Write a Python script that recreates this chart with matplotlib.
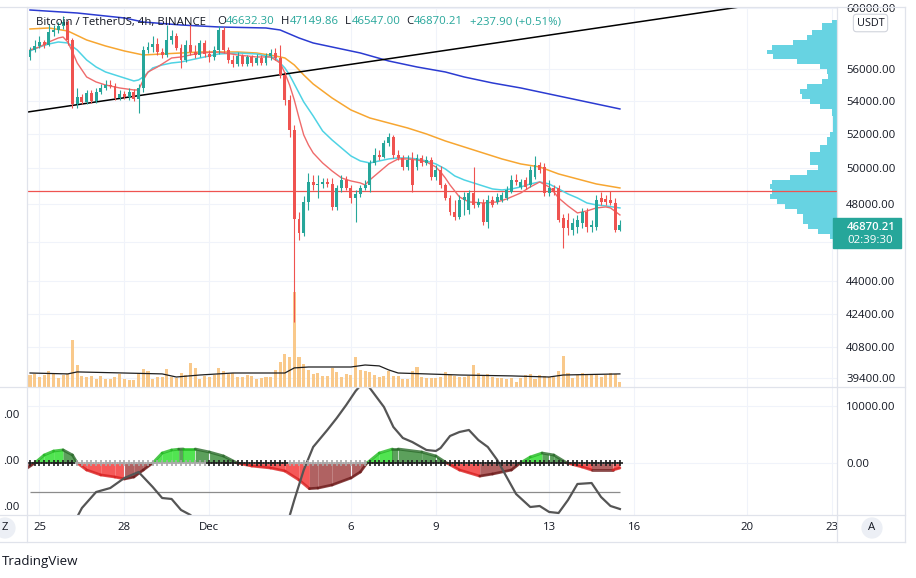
import numpy as np
import pandas as pd
import matplotlib
matplotlib.use("Agg")
import matplotlib.pyplot as plt
from matplotlib.patches import Rectangle
from matplotlib.lines import Line2D
from matplotlib.ticker import NullLocator

plt.rcParams['font.family'] = ['Open Sans', 'DejaVu Sans']

# ---------------- data (BTCUSDT 4h, Binance) ----------------
start = pd.Timestamp('2021-11-24 16:00')
tick_dates = ['2021-11-25', '2021-11-28', '2021-12-01', '2021-12-06', '2021-12-09',
              '2021-12-13', '2021-12-16', '2021-12-20', '2021-12-23']
tick_lbl = ['25', '28', 'Dec', '6', '9', '13', '16', '20', '23']

open_ = np.array([
    56752, 57205, 57466, 57728, 57531, 58388, 58520, 58787, 59053, 57859,
    53801, 54231, 53924, 54478, 53985, 54540, 54788, 54975, 54913, 54169,
    54416, 54231, 54540, 54108, 54788, 57205, 57400, 57596, 57075, 56881,
    57859, 58122, 57335, 56559, 57531, 57075, 56881, 57662, 56946, 56752,
    57205, 58520, 57205, 56559, 56303, 56817, 56303, 56752, 56367, 56688,
    56367, 56817, 57010, 56688, 55603, 54046, 52235, 47212, 46467, 48133,
    49239, 49071, 49127, 49239, 49127, 47860, 48904, 49351, 48904, 48352,
    48572, 48904, 49071, 50313, 50772, 50658, 51469, 51821, 50772, 50600,
    50085, 50485, 50085, 50600, 50313, 50485, 49519, 49915, 49071, 48352,
    47589, 47319, 48242, 47697, 48628, 47969, 48078, 47051, 48242, 48133,
    48242, 48352, 48683, 49351, 48960, 49351, 49071, 49519, 50199, 50085,
    48628, 48904, 48904, 47266, 47158, 46625, 46785, 46998, 47589, 46785,
    46785, 48352, 48297, 48242, 48078, 46632.30])
close = np.array([
    57205, 57466, 57728, 57531, 58388, 58520, 58787, 59053, 57859, 53801,
    54231, 53924, 54478, 53985, 54540, 54788, 54975, 54913, 54169, 54416,
    54231, 54540, 54108, 54788, 57205, 57400, 57596, 57075, 56881, 57859,
    58122, 57335, 56559, 57531, 57075, 56881, 57662, 56946, 56752, 57205,
    58520, 57205, 56559, 56303, 56817, 56303, 56752, 56367, 56688, 56367,
    56817, 57010, 56688, 55603, 54046, 52235, 47212, 46467, 48133, 49239,
    49071, 49127, 49239, 49127, 47860, 48904, 49351, 48904, 48352, 48572,
    48904, 49071, 50313, 50772, 50658, 51469, 51821, 50772, 50600, 50085,
    50485, 49071, 50600, 50313, 50485, 49519, 49915, 49071, 48352, 47589,
    47319, 48242, 48407, 48628, 47969, 48133, 47051, 48242, 47969, 48407,
    48517, 48793, 49351, 49239, 49239, 48960, 49915, 50199, 49915, 48628,
    48904, 48683, 47158, 46732, 46732, 46998, 47158, 47589, 46785, 46891,
    48242, 48133, 48133, 48078, 46632.31, 46870.21])
high = np.array([
    57400, 57859, 58122, 57859, 58920, 58853, 59053, 59458, 59188, 57990,
    54788, 54416, 54664, 54664, 54788, 55037, 55288, 55288, 55100, 54664,
    54602, 54788, 54726, 55037, 57466, 57728, 58122, 57990, 57335, 58853,
    58520, 58322, 57596, 57859, 58853, 57531, 57859, 57859, 57205, 57466,
    58787, 58720, 57400, 56881, 57075, 56946, 56881, 56881, 56946, 56881,
    57010, 57270, 57335, 57531, 55793, 54354, 52533, 47589, 48462, 49745,
    49632, 49632, 49463, 49463, 49463, 49071, 49632, 49576, 49071, 48793,
    49071, 49351, 50485, 51178, 51062, 51645, 52057, 51939, 51062, 50772,
    50772, 50946, 50830, 50772, 50715, 50658, 50199, 50142, 49183, 48517,
    48242, 48517, 48683, 48793, 50085, 48352, 48297, 48517, 48462, 48628,
    48683, 49015, 49632, 49689, 49407, 49519, 50142, 50715, 50370, 50313,
    49351, 49071, 49071, 47481, 47535, 47266, 47427, 47806, 47806, 47158,
    48517, 48683, 48517, 48738, 48352, 47149.86])
low = np.array([
    56559, 57075, 57335, 57335, 57466, 58122, 58322, 58587, 57531, 53558,
    53558, 53801, 53801, 53862, 53862, 54416, 54664, 54788, 54046, 54046,
    54108, 54046, 53985, 53254, 54540, 57010, 57075, 56881, 56688, 56752,
    57596, 57205, 56048, 56431, 56881, 56688, 56752, 56752, 56431, 56559,
    56946, 57010, 56367, 56111, 56175, 56175, 56175, 56175, 56239, 56239,
    56239, 56559, 56559, 55414, 53740, 51821, 41995, 46099, 46309, 47697,
    48793, 48352, 48904, 48960, 47697, 47697, 48683, 48793, 48078, 47051,
    48407, 48793, 48683, 50199, 50485, 50600, 51294, 50600, 50485, 49915,
    49915, 48683, 49915, 50142, 50199, 49351, 49351, 48904, 48242, 47427,
    47158, 47212, 47427, 47481, 47806, 47860, 46891, 46732, 47860, 48024,
    48133, 48242, 48628, 49071, 48849, 48849, 48960, 49407, 49745, 48462,
    48462, 48517, 47051, 45681, 46361, 46361, 46467, 46732, 46520, 46520,
    46625, 47969, 47969, 47969, 46520, 46547.00])
# volume, thousand BTC
volume = np.array([
    6.6, 7.2, 5.5, 6.6, 8.8, 7.7, 5.0, 6.6, 7.2, 25.9,
    12.1, 6.1, 5.5, 6.1, 4.4, 6.1, 4.4, 4.4, 5.5, 7.2,
    4.4, 3.9, 3.9, 7.7, 9.9, 8.8, 4.4, 5.5, 5.5, 9.9,
    5.5, 5.0, 7.7, 6.6, 13.2, 10.5, 4.4, 6.1, 5.5, 6.6,
    10.5, 8.8, 7.2, 7.7, 5.5, 5.5, 6.6, 6.1, 4.4, 5.0,
    5.5, 5.5, 9.4, 13.8, 18.2, 16.5, 52.3, 16.5, 12.7, 9.4,
    7.2, 7.7, 6.1, 6.1, 10.5, 8.3, 5.5, 7.2, 6.6, 16.5,
    9.4, 8.8, 8.3, 6.6, 5.5, 6.1, 8.8, 6.1, 6.1, 4.4,
    4.4, 8.8, 11.0, 5.5, 5.0, 5.0, 5.0, 5.5, 8.3, 6.6,
    6.1, 5.5, 5.5, 6.1, 12.1, 7.7, 6.1, 7.2, 5.5, 5.0,
    5.0, 4.4, 5.0, 2.8, 5.0, 6.6, 7.2, 4.4, 6.6, 6.1,
    5.5, 5.5, 8.8, 17.1, 7.7, 5.0, 6.6, 7.7, 6.6, 6.6,
    6.6, 5.5, 6.6, 7.7, 7.2, 2.8])
vol_ma_idx = [0, 8, 10, 28, 31, 36, 43, 54, 56, 59, 68, 71, 74, 76, 78, 91, 102, 110, 113, 125]
vol_ma = [7.7, 7.2, 8.3, 7.2, 5.5, 6.6, 7.7, 7.7, 10.5, 11.0, 11.0, 12.1, 11.6, 9.4, 7.7,
          6.6, 6.1, 5.5, 6.6, 7.2]

# moving averages
red_idx = [0, 2, 4, 6, 7, 8, 9, 10, 12, 14, 16, 19, 22, 23, 24, 25, 27, 30, 32, 36,
           40, 44, 48, 51, 53, 54, 55, 56, 57, 58, 59, 60, 62, 64, 66, 68, 70, 71, 72, 74,
           76, 78, 80, 82, 84, 86, 87, 88, 89, 91, 93, 96, 99, 101, 104, 106, 108, 110, 111, 112,
           114, 116, 118, 120, 122, 123, 125]
red_val = [57205, 57400, 57728, 57990, 58055, 57728, 57075, 56367, 55477, 55163,
           54975, 54788, 54664, 54664, 55288, 55793, 56111, 56688, 56752, 57010,
           57075, 56881, 56752, 56752, 56367, 55730, 54975, 54046, 52952, 51939,
           51352, 50888, 50313, 49858, 49463, 49295, 49183, 49071, 49351, 49802,
           50256, 50543, 50543, 50485, 50370, 50085, 49802, 49463, 49071, 48407,
           48133, 48078, 48133, 48297, 48628, 48960, 49239, 48960, 48683, 48352,
           47915, 47535, 47643, 47806, 47860, 47806, 47427]
cyan_idx = [0, 2, 4, 6, 8, 10, 12, 14, 16, 18, 20, 22, 23, 24, 26, 28, 30, 32, 36, 40,
            44, 48, 50, 52, 53, 54, 55, 56, 57, 58, 60, 62, 64, 66, 68, 70, 72, 74, 76, 78,
            80, 82, 84, 86, 88, 90, 92, 94, 96, 98, 100, 102, 104, 106, 108, 110, 112, 114, 116, 118,
            120, 122, 125]
cyan_val = [57140, 57400, 57596, 57728, 57662, 57205, 56559, 56111, 55793, 55603,
            55414, 55226, 55288, 55477, 56048, 56239, 56367, 56431, 56688, 56946,
            57010, 56946, 56817, 56688, 56367, 56048, 55603, 55037, 54478, 53924,
            53073, 52176, 51645, 51178, 50715, 50428, 50313, 50428, 50543, 50600,
            50600, 50543, 50428, 50256, 49971, 49576, 49351, 49183, 49015, 48849,
            48793, 48849, 48960, 49127, 49239, 49127, 48849, 48572, 48352, 48078,
            47969, 47915, 47806]
orange_idx = [0, 4, 8, 12, 16, 20, 24, 28, 32, 36, 40, 44, 48, 52, 54, 56, 58, 60, 64, 68,
              72, 76, 80, 84, 88, 92, 96, 100, 104, 108, 112, 116, 120, 125]
orange_val = [58587, 58653, 58454, 57859, 57466, 57140, 56881, 56946, 57010, 57075,
              57075, 57075, 57010, 56817, 56688, 56239, 55603, 55037, 54169, 53436,
              52952, 52652, 52354, 51998, 51586, 51236, 50888, 50543, 50256, 50085,
              49689, 49407, 49127, 48904]
blue_idx = [0, 10, 20, 24, 32, 40, 50, 53, 57, 60, 64, 70, 76, 82, 88, 92, 98, 104, 112, 118, 125]
blue_val = [59864, 59660, 59323, 59053, 58853, 58720, 58653, 58520, 57990, 57662,
            57400, 57010, 56495, 56111, 55793, 55477, 55100, 54788, 54292, 53924, 53497]

trend_idx = [-0.42, 155]
trend_val = [53315, 60290]
alert_level = 48730

# visible range volume profile (price level -> volume)
prof_price = [59188, 58720, 58322, 57990, 57662, 57335, 57075, 56752, 56431, 56111,
              55793, 55477, 55163, 54851, 54540, 54231, 53924, 53619, 53315, 52832,
              52235, 51939, 51645, 51062, 50772, 50370, 50028, 49745, 49463, 49239,
              48960, 48683, 48407, 48133, 47860, 47589, 47319, 47051, 46785, 46520,
              46257, 45999]
prof_vol = [5, 15, 25, 30, 44, 65, 70, 64, 40, 17,
            10, 9, 15, 30, 37, 35, 27, 17, 5, 4,
            4, 7, 10, 17, 27, 27, 19, 30, 47, 65,
            67, 65, 67, 60, 52, 40, 34, 34, 29, 19,
            7, 3]

price_ticks = [60000, 56000, 54000, 52000, 50000, 48000, 46000, 44000, 42400, 40800, 39400]

# squeeze momentum indicator
mom_idx = [-0.6, 1.0, 3, 5, 7, 9, 10, 12, 15, 18, 20, 22, 24, 26, 28, 30, 31.5, 32.5, 35, 38,
           41, 43.9, 47, 51, 54, 57, 59.2, 61, 64, 68, 70, 71.4, 74, 76.8, 78, 83, 86, 88.3, 91, 95.3,
           98, 102, 103.9, 106, 108.5, 111, 113.8, 117, 119, 123.5, 125]
mom_val = [-900, 0, 1400, 2100, 2300, 1400, 0, -1230, -2100, -2460,
           -2800, -2460, -1230, 0, 1750, 2280, 2420, 2456, 2456, 1930,
           1230, 0, -530, -880, -1400, -2980, -4500, -4400, -3860, -2630,
           -1580, 0, 1750, 2456, 2456, 1930, 1230, 0, -1230, -2300,
           -1930, -1230, 0, 1050, 1750, 1400, 0, -700, -1230, -1230, -880]
mom_state = "MLLLGGRRRRMMMLLLGLGGGRRRRRMMMMMLLGGGGRRMMMLLGGRRMR"
sqz_on = [(0, 9), (38, 54), (72, 125)]
osc_idx = [9, 11, 14, 17, 20, 23, 26, 28, 30, 32, 34, 36, 50, 55, 56, 58, 60, 63, 65, 67,
           69, 71, 72, 75, 77, 79, 81, 84, 86, 87, 89, 91, 93, 95, 97, 99, 101, 103, 106, 108,
           110, 112, 114, 116, 119, 121, 123, 125]
osc_val = [-11000, -7890, -5090, -4390, -2630, -1580, -4210, -6140, -6310, -8240,
           -9120, -11000, -12000, -9300, -6490, -1230, 2810, 5790, 7890, 10170,
           12630, 14500, 13150, 9820, 6310, 4390, 3680, 2280, 2110, 2630,
           4740, 5440, 5790, 4030, 2810, 530, -2460, -5440, -7720, -7540,
           -8590, -8770, -6490, -3680, -3510, -5960, -7540, -8070]
osc_level = -5090

# ---------------- layout ----------------
W, H = 916, 578
TXT = '#131722'
UP, DOWN = '#26a69a', '#ef5350'
GRID = '#f0f3fa'
FRAME = '#e0e3eb'
FS = 8.2


def fx(x):
    return x / W


def fy(y):
    return 1 - y / H


idx = np.arange(len(close))
tick_pos = ((pd.to_datetime(tick_dates) - start) / pd.Timedelta(hours=4)).values
XLIM = (-0.64, 171.0)
YLIM = (39005, 60068)
rect_main = [fx(27), fy(387), 810 / W, 380 / H]
rect_ind = [fx(27), fy(515), 810 / W, 127 / H]

fig = plt.figure(figsize=(W / 100, H / 100), dpi=100)
fig.patch.set_facecolor('white')

# base axes: grid + price scale
ax = fig.add_axes(rect_main, zorder=0)
ax.set_yscale('log')
ax.set_ylim(*YLIM)
ax.set_xlim(*XLIM)
ax.yaxis.tick_right()
ax.set_yticks(price_ticks)
ax.set_yticklabels(['' if p == 46000 else f'{p:.2f}' for p in price_ticks])
ax.yaxis.set_minor_locator(NullLocator())
ax.set_xticks(tick_pos)
ax.tick_params(axis='x', length=0, labelbottom=False)
ax.tick_params(axis='y', length=0, pad=6.5, labelsize=FS, labelcolor=TXT)
ax.grid(True, color=GRID, lw=0.8)
for s in ax.spines.values():
    s.set_visible(False)

# volume
ax_vol = fig.add_axes(rect_main, zorder=1)
ax_vol.bar(idx, volume, width=0.65, color='#f9c98b', lw=0)
ax_vol.plot(vol_ma_idx, vol_ma, color='#1e1e1e', lw=0.9)
ax_vol.set_xlim(*XLIM)
ax_vol.set_ylim(0, 209)
ax_vol.axis('off')

# volume profile + alert line
ax_prof = fig.add_axes(rect_main, zorder=2)
ax_prof.set_yscale('log')
ax_prof.set_ylim(*YLIM)
ax_prof.set_xlim(810, 0)
ax_prof.fill_betweenx(prof_price, 0, prof_vol, step='mid', color='#67d3e2', lw=0)
ax_prof.axhline(alert_level, color='#ef5350', lw=0.9)
ax_prof.axis('off')

# price: candles, MAs, trend line
axp = fig.add_axes(rect_main, zorder=3)
axp.set_yscale('log')
axp.set_ylim(*YLIM)
axp.set_xlim(*XLIM)
axp.axis('off')
axp.plot(blue_idx, blue_val, color='#2b3bd1', lw=1.1)
axp.plot(orange_idx, orange_val, color='#f7a631', lw=1.1)
axp.plot(cyan_idx, cyan_val, color='#4fd3e4', lw=1.1)
axp.plot(red_idx, red_val, color='#ef6b6b', lw=1.0)
axp.plot(trend_idx, trend_val, color='black', lw=1.1)
cc = np.where(close >= open_, UP, DOWN)
axp.vlines(idx, low, high, colors=cc, lw=0.8, zorder=4)
axp.bar(idx, np.abs(close - open_), bottom=np.minimum(open_, close), width=0.62,
        color=cc, lw=0, zorder=5)

# indicator pane
ai = fig.add_axes(rect_ind)
ai.set_xlim(*XLIM)
ai.set_ylim(-9121, 13155)
for s in ai.spines.values():
    s.set_visible(False)
ai.set_xticks(tick_pos)
ai.set_xticklabels(tick_lbl)
ai.yaxis.tick_right()
ai.set_yticks([10000, 0])
ai.set_yticklabels(['10000.00', '0.00'])
ai.tick_params(axis='x', length=0, pad=5, labelsize=FS, labelcolor=TXT)
ai.tick_params(axis='y', length=0, pad=6.5, labelsize=FS, labelcolor=TXT)
ai.grid(True, color=GRID, lw=0.8)

fill_c = {'L': '#33e033', 'G': '#3f8f3f', 'R': '#f43c3c', 'M': '#a34646'}
edge_c = {'L': '#1fb81f', 'G': '#2a6a2a', 'R': '#d82222', 'M': '#6e1d1d'}
for k, st in enumerate(mom_state):
    xs = mom_idx[k:k + 2]
    ys = mom_val[k:k + 2]
    ai.fill_between(xs, 0, ys, color=fill_c[st], alpha=0.85, lw=0)
    ai.plot(xs, ys, color=edge_c[st], lw=2.0, alpha=0.8, solid_capstyle='round')
ai.hlines(osc_level, 0, idx[-1], color='#8c8c8c', lw=0.9)
ai.plot(osc_idx, osc_val, color='#555555', lw=1.6)
on = np.zeros(len(idx), bool)
for a, b in sqz_on:
    on[a:b + 1] = True
ai.scatter(idx[~on], np.zeros((~on).sum()), marker='+', s=14, color='#a8a8a8', lw=1.2, zorder=5)
ai.scatter(idx[on], np.zeros(on.sum()), marker='+', s=14, color='#202020', lw=1.2, zorder=5)

# left scale of the indicator (only the tail of each label is in view)
for y in (416, 462, 507):
    fig.text(fx(19), fy(y), '.00', ha='right', va='center', fontsize=FS, color=TXT)

# ---------------- chrome ----------------
fig.add_artist(Rectangle((fx(837.5), fy(541.5)), 67 / W, 25.5 / H, transform=fig.transFigure,
                         color='white', zorder=4))


def hl(y, x0, x1):
    fig.add_artist(Line2D([fx(x0), fx(x1)], [fy(y), fy(y)], color=FRAME, lw=0.9, zorder=6))


def vl(x, y0, y1):
    fig.add_artist(Line2D([fx(x), fx(x)], [fy(y0), fy(y1)], color=FRAME, lw=0.9, zorder=6))


for y in (7, 387, 515, 542):
    hl(y, 0, 905)
for x in (27, 837, 905):
    vl(x, 7, 542)

# legend line
LFS = 8.2
fig.text(fx(36), fy(22), 'Bitcoin / TetherUS, 4h, BINANCE', fontsize=LFS, color=TXT,
         va='center', zorder=7)
chg = close[-1] - close[-2]
legend = [(217, 'O', open_[-1], 9), (281, 'H', high[-1], 9), (345, 'L', low[-1], 7),
          (406, 'C', close[-1], 8)]
for x, letter, v, off in legend:
    fig.text(fx(x), fy(22), letter, fontsize=LFS, color=TXT, va='center', zorder=7)
    fig.text(fx(x + off), fy(22), f'{v:.2f}', fontsize=LFS, color=UP, va='center', zorder=7)
fig.text(fx(470), fy(22), f'{chg:+.2f} ({chg / close[-2] * 100:+.2f}%)', fontsize=LFS,
         color=UP, va='center', zorder=7)

# USDT badge
fig.text(fx(870.5), fy(23), 'USDT', fontsize=7.8, color=TXT, ha='center', va='center', zorder=7,
         bbox=dict(boxstyle='round,pad=0.3,rounding_size=0.3', fc='white', ec='#d1d4dc', lw=0.8))

# last price label
fig.add_artist(Rectangle((fx(833), fy(248)), 68 / W, 30 / H, transform=fig.transFigure,
                         color=UP, zorder=7))
fig.text(fx(847), fy(227.5), f'{close[-1]:.2f}', fontsize=FS, color='white', va='center',
         fontweight='semibold', zorder=8)
fig.text(fx(847), fy(240.5), '02:39:30', fontsize=FS, color='white', va='center', zorder=8)

# scale buttons
fig.text(fx(872), fy(528), 'A', fontsize=FS, color=TXT, ha='center', va='center', zorder=7,
         bbox=dict(boxstyle='circle,pad=0.45', fc='#eceff5', ec='none'))
fig.text(fx(5), fy(528), 'Z', fontsize=FS, color=TXT, ha='center', va='center', zorder=7,
         bbox=dict(boxstyle='circle,pad=0.45', fc='#eceff5', ec='none'))

fig.text(fx(2), fy(561), 'TradingView', fontsize=9.6, color=TXT, va='center')

fig.savefig('out.png', dpi=100, facecolor='white')
